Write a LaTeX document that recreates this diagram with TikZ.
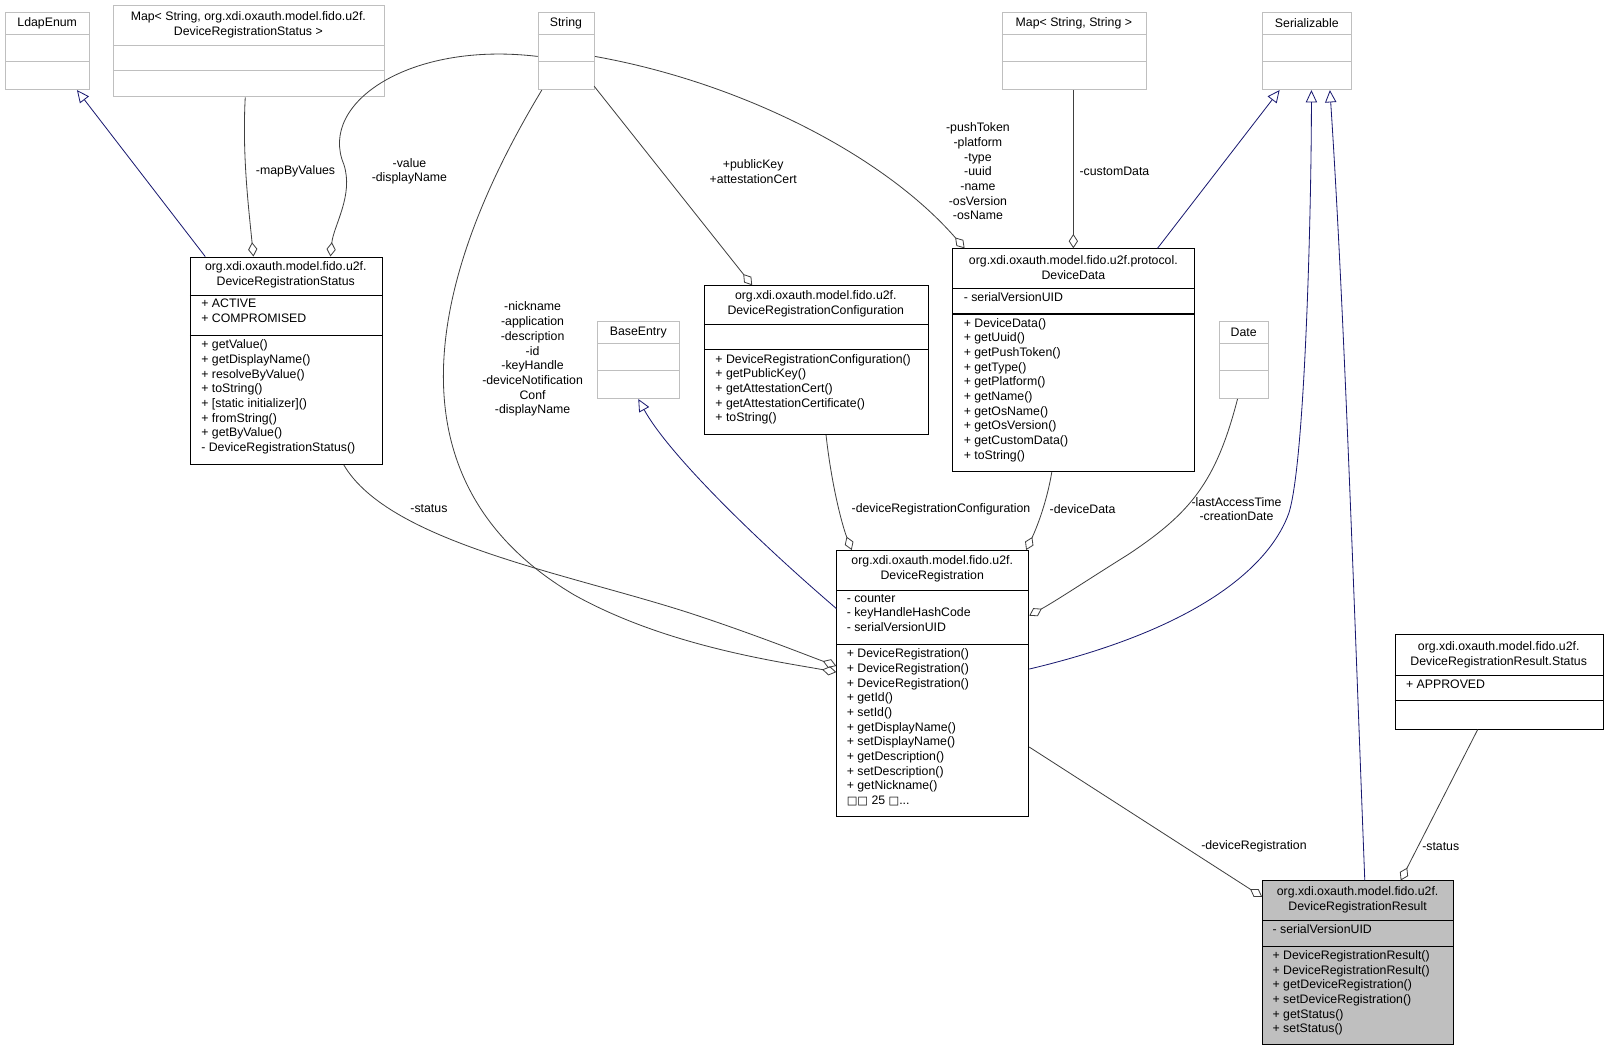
\documentclass[tikz,border=0pt]{standalone}
\usepackage{fontspec}
\setmainfont{Liberation Sans}
\newfontfamily\djv{DejaVu Sans}
\usetikzlibrary{arrows.meta,calc}
\definecolor{extgray}{HTML}{BFBFBF}
\definecolor{resgray}{HTML}{BFBFBF}
\definecolor{aggcol}{HTML}{404040}
\definecolor{navyc}{HTML}{191970}
\newcommand\ubox[6]{\node[#6, minimum width=#4pt, minimum height=#5pt, anchor=north west, inner sep=0pt] (#1) at (#2,#3) {};}
\tikzset{
 ext/.style={draw=extgray, line width=0.8pt},
 cls/.style={draw=black, line width=1pt},
 res/.style={draw=black, fill=resgray, line width=1pt},
 sepx/.style={draw=extgray, line width=0.8pt},
 sepc/.style={draw=black, line width=1pt},
 txt/.style={font=\fontsize{12}{14.3}\selectfont, inner sep=0pt, align=left, anchor=north west},
 hdr/.style={font=\fontsize{12}{14.3}\selectfont, inner sep=0pt, align=center},
 lbl/.style={font=\fontsize{12}{14.3}\selectfont, inner sep=0pt, align=center},
 agg/.style={draw=aggcol, line width=0.8pt, -{Diamond[open,length=14pt,width=9pt]}},
 inh/.style={draw=navyc, line width=0.8pt, -{Triangle[open,length=12pt,width=11pt]}},
}
\begin{document}
\begin{tikzpicture}[x=1pt,y=-1pt]
\useasboundingbox (0,0) rectangle (1568,1024);
% ---- external boxes
\ubox{ldap}{5}{12}{82}{75}{ext}
\draw[sepx] (5,34) -- (87,34) (5,60) -- (87,60);
\node[hdr] at (46,23) {LdapEnum};
\ubox{map1}{110}{5}{264}{89}{ext}
\draw[sepx] (110,44) -- (374,44) (110,69) -- (374,69);
\node[hdr] at (242,24.5) {Map< String, org.xdi.oxauth.model.fido.u2f.\\DeviceRegistrationStatus >};
\ubox{str}{524}{12}{55}{75}{ext}
\draw[sepx] (524,34) -- (579,34) (524,60) -- (579,60);
\node[hdr] at (551.5,23) {String};
\ubox{map2}{976}{12}{141}{75}{ext}
\draw[sepx] (976,34) -- (1117,34) (976,60) -- (1117,60);
\node[hdr] at (1046.5,23) {Map< String, String >};
\ubox{ser}{1230}{12}{87}{75}{ext}
\draw[sepx] (1230,34) -- (1317,34) (1230,60) -- (1317,60);
\node[hdr] at (1273.5,23) {Serializable};
\ubox{base}{582}{313}{80}{75}{ext}
\draw[sepx] (582,335) -- (662,335) (582,361) -- (662,361);
\node[hdr] at (622,324) {BaseEntry};
\ubox{date}{1188}{313}{48}{75}{ext}
\draw[sepx] (1188,335) -- (1236,335) (1188,361) -- (1236,361);
\node[hdr] at (1212,324) {Date};
% ---- DeviceRegistrationStatus
\ubox{drs}{185}{250}{187}{202}{cls}
\draw[sepc] (185,288) -- (372,288) (185,327) -- (372,327);
\node[hdr] at (278.5,268) {org.xdi.oxauth.model.fido.u2f.\\DeviceRegistrationStatus};
\node[txt] at (196,291) {+ ACTIVE\\+ COMPROMISED};
\node[txt] at (196,331) {+ getValue()\\+ getDisplayName()\\+ resolveByValue()\\+ toString()\\+ [static initializer]()\\+ fromString()\\+ getByValue()\\- DeviceRegistrationStatus()};
% ---- DeviceRegistrationConfiguration
\ubox{cfg}{686}{278}{218}{145}{cls}
\draw[sepc] (686,316) -- (904,316) (686,341) -- (904,341);
\node[hdr] at (795,296) {org.xdi.oxauth.model.fido.u2f.\\DeviceRegistrationConfiguration};
\node[txt] at (697,345) {+ DeviceRegistrationConfiguration()\\+ getPublicKey()\\+ getAttestationCert()\\+ getAttestationCertificate()\\+ toString()};
% ---- DeviceData
\ubox{dd}{928}{242}{236}{217}{cls}
\draw[sepc] (928,281) -- (1164,281) (928,306) -- (1164,306);
\node[hdr] at (1046,261) {org.xdi.oxauth.model.fido.u2f.protocol.\\DeviceData};
\node[txt] at (939,285) {- serialVersionUID};
\node[txt] at (939,310) {+ DeviceData()\\+ getUuid()\\+ getPushToken()\\+ getType()\\+ getPlatform()\\+ getName()\\+ getOsName()\\+ getOsVersion()\\+ getCustomData()\\+ toString()};
% ---- DeviceRegistration
\ubox{dr}{815}{536}{187}{259}{cls}
\draw[sepc] (815,575) -- (1002,575) (815,628) -- (1002,628);
\node[hdr] at (908.5,554) {org.xdi.oxauth.model.fido.u2f.\\DeviceRegistration};
\node[txt] at (825,579) {- counter\\- keyHandleHashCode\\- serialVersionUID};
\node[txt] at (825,632) {+ DeviceRegistration()\\+ DeviceRegistration()\\+ DeviceRegistration()\\+ getId()\\+ setId()\\+ getDisplayName()\\+ setDisplayName()\\+ getDescription()\\+ setDescription()\\+ getNickname()\\{\djv\fontsize{11}{14.3}\selectfont □□} 25 {\djv\fontsize{11}{14.3}\selectfont □}...};
% ---- Status
\ubox{st}{1359}{618}{203}{92}{cls}
\draw[sepc] (1359,658) -- (1562,658) (1359,683) -- (1562,683);
\node[hdr] at (1460.5,638) {org.xdi.oxauth.model.fido.u2f.\\DeviceRegistrationResult.Status};
\node[txt] at (1370,662) {+ APPROVED};
% ---- DeviceRegistrationResult
\ubox{drr}{1230}{858}{186}{159}{res}
\draw[sepc] (1230,897) -- (1416,897) (1230,922) -- (1416,922);
\node[hdr] at (1323,877) {org.xdi.oxauth.model.fido.u2f.\\DeviceRegistrationResult};
\node[txt] at (1240,901) {- serialVersionUID};
\node[txt] at (1240,926) {+ DeviceRegistrationResult()\\+ DeviceRegistrationResult()\\+ getDeviceRegistration()\\+ setDeviceRegistration()\\+ getStatus()\\+ setStatus()};
% ---- connectors
\draw[inh] (200,0 |- drs.north) -- (75,0 |- ldap.south);
\draw[agg] (239,0 |- map1.south) .. controls (236,150) and (242,200) .. (247,0 |- drs.north);
\node[lbl] at (288,167) {-mapByValues};
\draw[agg] (str.west |- 0,55) .. controls (400,40) and (310,100) .. (335,160) .. controls (345,190) and (325,220) .. (322,0 |- drs.north);
\node[lbl] at (399,167) {-value\\-displayName};
\draw[agg] (528,0 |- str.south) .. controls (400,300) and (390,480) .. (560,580) .. controls (650,630) and (760,645) .. (dr.west |- 0,655);
\node[lbl] at (519,350) {-nickname\\-application\\-description\\-id\\-keyHandle\\-deviceNotification\\Conf\\-displayName};
\draw[agg] (335,0 |- drs.south) .. controls (380,530) and (560,560) .. (680,600) .. controls (740,620) and (790,640) .. (dr.west |- 0,649);
\node[lbl] at (418,496) {-status};
\draw[agg] (579,84) -- (733,0 |- cfg.north);
\node[lbl] at (734,167) {+publicKey\\+attestationCert};
\draw[agg] (str.east |- 0,55) .. controls (720,80) and (860,150) .. (940,0 |- dd.north);
\node[lbl] at (953,167) {-pushToken\\-platform\\-type\\-uuid\\-name\\-osVersion\\-osName};
\draw[agg] (1046,0 |- map2.south) -- (1046,0 |- dd.north);
\node[lbl] at (1086,167) {-customData};
\draw[inh] (1128,0 |- dd.north) -- (1247,0 |- ser.south);
\draw[inh] (dr.east |- 0,652) .. controls (1180,610) and (1240,545) .. (1256,500) .. controls (1272,450) and (1278,200) .. (1278,0 |- ser.south);
\draw[inh] (1330,0 |- drr.north) .. controls (1320,600) and (1310,300) .. (1296,0 |- ser.south);
\draw[inh] (dr.west |- 0,593) .. controls (730,520) and (650,440) .. (622,0 |- base.south);
\draw[agg] (805,0 |- cfg.south) .. controls (810,470) and (820,510) .. (830,0 |- dr.north);
\node[lbl] at (917,496) {-deviceRegistrationConfiguration};
\draw[agg] (1025,0 |- dd.south) .. controls (1020,490) and (1010,515) .. (1000,0 |- dr.north);
\node[lbl] at (1055,496) {-deviceData};
\draw[agg] (1206,0 |- date.south) .. controls (1185,470) and (1160,500) .. (1100,540) .. controls (1060,565) and (1030,585) .. (dr.east |- 0,600);
\node[lbl] at (1205,496) {-lastAccessTime\\-creationDate};
\draw[agg] (dr.east |- 0,728) -- (drr.west |- 0,874);
\node[lbl] at (1222,825) {-deviceRegistration};
\draw[agg] (1440,0 |- st.south) -- (1365,0 |- drr.north);
\node[lbl] at (1404,825) {-status};
\end{tikzpicture}
\end{document}
